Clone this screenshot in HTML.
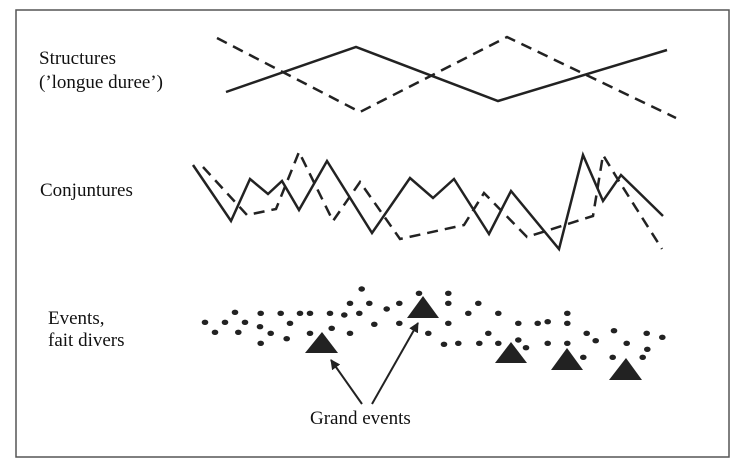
<!DOCTYPE html>
<html><head><meta charset="utf-8"><style>
html,body{margin:0;padding:0;background:#fff;width:740px;height:466px;overflow:hidden}
text{font-family:"Liberation Serif",serif;font-size:19px;fill:#111}
</style></head><body>
<svg width="740" height="466" viewBox="0 0 740 466" xmlns="http://www.w3.org/2000/svg">
<defs><marker id="ah" markerWidth="10" markerHeight="10" refX="9" refY="5" orient="auto" markerUnits="userSpaceOnUse"><path d="M0,0 L10,5 L0,10 z" fill="#222"/></marker></defs>
<rect x="16" y="10" width="713" height="447" fill="none" stroke="#555" stroke-width="1.5"/>
<text x="39" y="64">Structures</text>
<text x="39" y="88">(’longue duree’)</text>
<text x="40" y="196">Conjuntures</text>
<text x="48" y="324">Events,</text>
<text x="48" y="346">fait divers</text>
<text x="310" y="424">Grand events</text>
<g fill="none" stroke="#222" stroke-width="2.5" stroke-linejoin="miter">
<polyline points="226,92 356,47 498,101 667,50"/>
<polyline points="217,38 360,112 507,37 676,118" stroke-dasharray="11,7"/>
<polyline points="193,165 231,221 250,179 268,194 282,181 299,210 327,161 372,233 410,178 433,198 454,179 489,234 511,191 559,249 583,155 603,201 621,175 663,216"/>
<polyline points="203,167 247,215 276,209 299,152 333,221 360,182 400,239 464,225 484,193 527,237 593,216 603,155 617,178 662,249" stroke-dasharray="11,7"/>
</g>
<g fill="#222">
<polygon points="322,332 305,353 338,353"/>
<polygon points="423,296 407,318 439,318"/>
<polygon points="511,342 495,363 527,363"/>
<polygon points="567,348 551,370 583,370"/>
<polygon points="626,358 609,380 642,380"/>
</g>
<g stroke="#222" stroke-width="2" fill="none">
<line x1="362" y1="404" x2="331" y2="360" marker-end="url(#ah)"/>
<line x1="372" y1="404" x2="418" y2="323" marker-end="url(#ah)"/>
</g>
<g fill="#222" id="dots"></g>
</svg>
<script>
var p=[[515,27],[687,40],[775,40],[480,70],[538,70],[628,70],[775,70],[865,70],[135,97],[212,100],[272,100],[330,100],[360,100],[420,100],[463,105],[508,100],[590,87],[835,100],[925,100],[1132,100],[45,127],[105,127],[165,127],[300,130],[553,133],[628,130],[775,130],[985,130],[1043,130],[1073,125],[1132,130],[75,157],[145,157],[210,140],[242,160],[360,160],[425,145],[480,160],[715,160],[895,160],[1190,160],[1272,152],[1370,160],[1417,172],[212,190],[290,176],[762,193],[805,190],[868,190],[925,190],[985,180],[1008,203],[1073,190],[1132,190],[1217,182],[1310,190],[1372,208],[1180,232],[1268,232],[1358,232]];
var g=document.getElementById('dots'),s='';
p.forEach(function(q){s+='<ellipse cx="'+(190+q[0]/3).toFixed(1)+'" cy="'+(280+q[1]/3).toFixed(1)+'" rx="3.3" ry="2.7"/>';});
g.innerHTML=s;
</script>
</body></html>
